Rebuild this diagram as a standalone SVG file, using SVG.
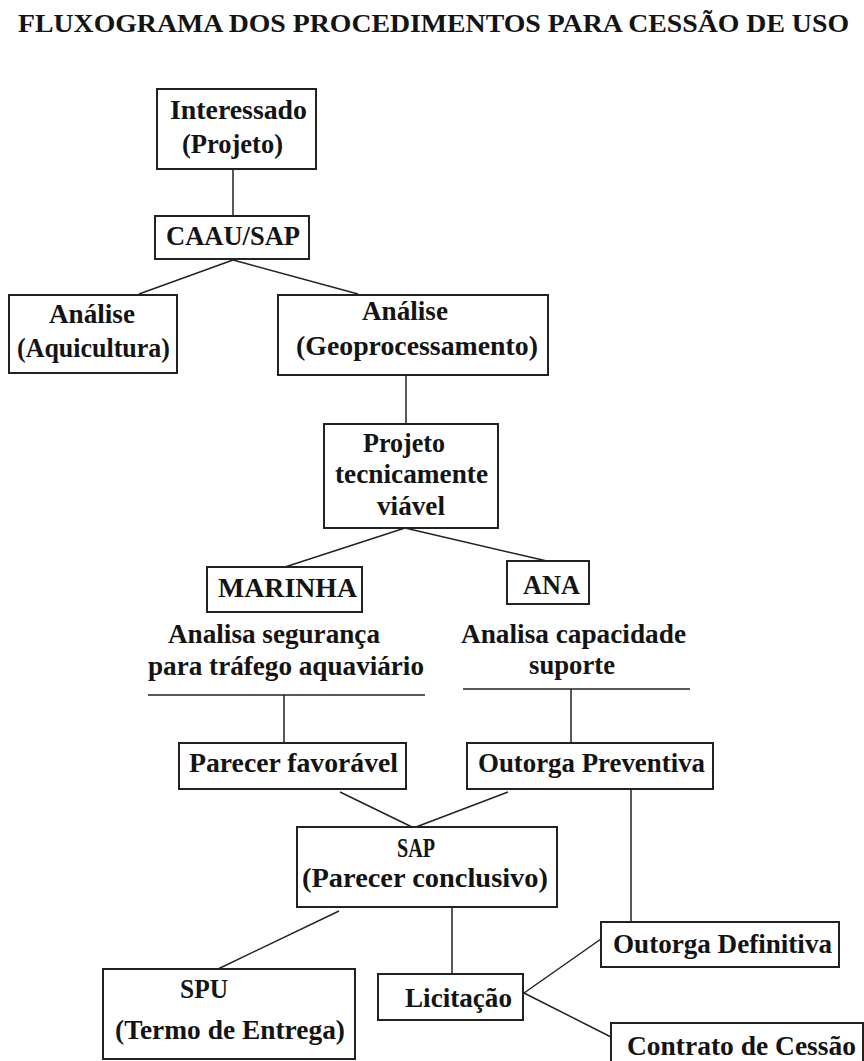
<svg xmlns="http://www.w3.org/2000/svg" width="864" height="1061" viewBox="0 0 864 1061">
<style>
text{font-family:"Liberation Serif","Times New Roman",serif;font-weight:bold;font-size:27px;fill:#141414}
.t{font-size:26px}
.n rect{fill:#fff;stroke:#222;stroke-width:2}
.c line{stroke:#222;stroke-width:1.5}
</style>
<rect x="0" y="0" width="864" height="1061" style="fill:#fff;stroke:none"/>
<text class="t" x="18" y="32" textLength="831" lengthAdjust="spacingAndGlyphs">FLUXOGRAMA DOS PROCEDIMENTOS  PARA CESSÃO DE USO</text>
<g class="c" id="connectors">
<line x1="233" y1="169" x2="233" y2="216"/>
<line x1="233" y1="260" x2="139" y2="294"/>
<line x1="233" y1="260" x2="358" y2="294"/>
<line x1="406" y1="375" x2="406" y2="424"/>
<line x1="405" y1="528" x2="285" y2="567"/>
<line x1="405" y1="528" x2="547" y2="561"/>
<line x1="148" y1="695" x2="425" y2="695"/>
<line x1="463" y1="689" x2="690" y2="689"/>
<line x1="284" y1="695" x2="284" y2="743"/>
<line x1="571" y1="689" x2="571" y2="743"/>
<line x1="340" y1="792" x2="412" y2="827"/>
<line x1="508" y1="792" x2="416" y2="827"/>
<line x1="631" y1="789" x2="631" y2="922"/>
<line x1="339" y1="911" x2="218" y2="969"/>
<line x1="452" y1="907" x2="452" y2="974"/>
<line x1="524" y1="993" x2="601" y2="939"/>
<line x1="524" y1="993" x2="611" y2="1037"/>
</g>
<g class="n" id="interessado"><rect x="157" y="89" width="159" height="80"/>
<text x="170" y="119" textLength="137" lengthAdjust="spacingAndGlyphs">Interessado</text>
<text x="182" y="153" textLength="101" lengthAdjust="spacingAndGlyphs">(Projeto)</text></g>
<g class="n" id="caau"><rect x="155" y="216" width="154" height="43"/>
<text x="166" y="245" textLength="134" lengthAdjust="spacingAndGlyphs">CAAU/SAP</text></g>
<g class="n" id="aquicultura"><rect x="9" y="295" width="168" height="78"/>
<text x="49" y="323" textLength="86" lengthAdjust="spacingAndGlyphs">Análise</text>
<text x="17" y="357" textLength="153" lengthAdjust="spacingAndGlyphs">(Aquicultura)</text></g>
<g class="n" id="geo"><rect x="278" y="295" width="270" height="80"/>
<text x="362" y="320" textLength="86" lengthAdjust="spacingAndGlyphs">Análise</text>
<text x="296" y="355" textLength="242" lengthAdjust="spacingAndGlyphs">(Geoprocessamento)</text></g>
<g class="n" id="projeto"><rect x="324" y="424" width="174" height="104"/>
<text x="363" y="452" textLength="82" lengthAdjust="spacingAndGlyphs">Projeto</text>
<text x="335" y="483" textLength="153" lengthAdjust="spacingAndGlyphs">tecnicamente</text>
<text x="377" y="515" textLength="68" lengthAdjust="spacingAndGlyphs">viável</text></g>
<g class="n" id="marinha"><rect x="207" y="567" width="155" height="45"/>
<text x="218" y="597" textLength="139" lengthAdjust="spacingAndGlyphs">MARINHA</text>
<text x="168" y="643" textLength="212" lengthAdjust="spacingAndGlyphs">Analisa segurança</text>
<text x="148" y="675" textLength="276" lengthAdjust="spacingAndGlyphs">para tráfego aquaviário</text></g>
<g class="n" id="ana"><rect x="507" y="561" width="82" height="43"/>
<text x="523" y="594" textLength="57" lengthAdjust="spacingAndGlyphs">ANA</text>
<text x="461" y="643" textLength="225" lengthAdjust="spacingAndGlyphs">Analisa capacidade</text>
<text x="529" y="674" textLength="86" lengthAdjust="spacingAndGlyphs">suporte</text></g>
<g class="n" id="parecer"><rect x="179" y="743" width="227" height="46"/>
<text x="189" y="772" textLength="209" lengthAdjust="spacingAndGlyphs">Parecer favorável</text></g>
<g class="n" id="outorga-preventiva"><rect x="467" y="743" width="246" height="46"/>
<text x="478" y="772" textLength="227" lengthAdjust="spacingAndGlyphs">Outorga Preventiva</text></g>
<g class="n" id="sap"><rect x="297" y="827" width="260" height="80"/>
<text x="397" y="857" textLength="38" lengthAdjust="spacingAndGlyphs">SAP</text>
<text x="302" y="887" textLength="246" lengthAdjust="spacingAndGlyphs">(Parecer conclusivo)</text></g>
<g class="n" id="spu"><rect x="103" y="969" width="252" height="90"/>
<text x="180" y="998" textLength="48" lengthAdjust="spacingAndGlyphs">SPU</text>
<text x="115" y="1039" textLength="230" lengthAdjust="spacingAndGlyphs">(Termo de Entrega)</text></g>
<g class="n" id="licitacao"><rect x="378" y="974" width="145" height="46"/>
<text x="405" y="1007" textLength="107" lengthAdjust="spacingAndGlyphs">Licitação</text></g>
<g class="n" id="outorga-definitiva"><rect x="601" y="922" width="238" height="45"/>
<text x="613" y="953" textLength="219" lengthAdjust="spacingAndGlyphs">Outorga Definitiva</text></g>
<g class="n" id="contrato"><rect x="611" y="1023" width="252" height="45"/>
<text x="627" y="1055" textLength="229" lengthAdjust="spacingAndGlyphs">Contrato de Cessão</text></g>
</svg>
